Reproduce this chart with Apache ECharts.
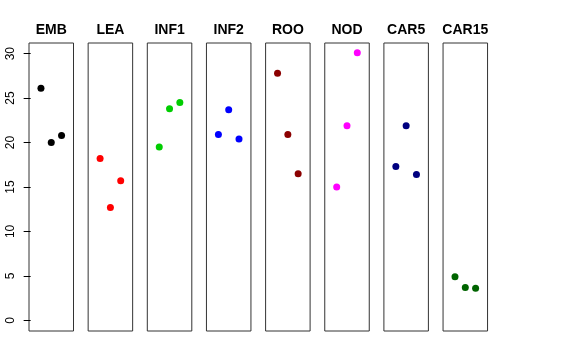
<!DOCTYPE html>
<html>
<head>
<meta charset="utf-8">
<script src="https://cdn.jsdelivr.net/npm/echarts@6/dist/echarts.min.js"></script>
<style>
html,body{margin:0;padding:0;background:#fff;}
#chart{width:576px;height:360px;}
</style>
</head>
<body>
<div id="chart"></div>
<script>
var panels = ["EMB", "LEA", "INF1", "INF2", "ROO", "NOD", "CAR5", "CAR15"];
var xPositions = [1, 2, 3];
var valuesEMB = [26.1, 20.0, 20.8];
var valuesLEA = [18.2, 12.7, 15.7];
var valuesINF1 = [19.5, 23.8, 24.5];
var valuesINF2 = [20.9, 23.7, 20.4];
var valuesROO = [27.8, 20.9, 16.5];
var valuesNOD = [15.0, 21.9, 30.1];
var valuesCAR5 = [17.3, 21.9, 16.4];
var valuesCAR15 = [4.9, 3.7, 3.6];
var yTicks = [0, 5, 10, 15, 20, 25, 30];
var colors = ["#000000", "#FF0000", "#00CD00", "#0000FF", "#8B0000", "#FF00FF", "#000080", "#006400"];

var allValues = [valuesEMB, valuesLEA, valuesINF1, valuesINF2, valuesROO, valuesNOD, valuesCAR5, valuesCAR15];

var gridLeft0 = 29, gridStep = 59.15, gridW = 44.5, gridTop = 43, gridH = 288;
var grids = [], xAxes = [], yAxes = [], series = [], titles = [];
for (var i = 0; i < panels.length; i++) {
  var left = gridLeft0 + i * gridStep;
  grids.push({left: left, top: gridTop, width: gridW, height: gridH, show: true,
    borderColor: '#333', borderWidth: 1, backgroundColor: 'transparent'});
  xAxes.push({type: 'value', gridIndex: i, min: -0.16, max: 4.16, show: false});
  var ya = {type: 'value', gridIndex: i, min: -1.2, max: 31.2, show: i === 0,
    splitLine: {show: false}, axisLine: {show: false}};
  if (i === 0) {
    ya.axisTick = {show: true, length: 7, customValues: yTicks, lineStyle: {color: '#000'}};
    ya.axisLabel = {show: true, rotate: 90, customValues: yTicks, margin: 12, color: '#000',
      fontSize: 12, fontFamily: 'Liberation Sans, Arial, sans-serif'};
  }
  yAxes.push(ya);
  series.push({type: 'scatter', xAxisIndex: i, yAxisIndex: i, symbol: 'circle', symbolSize: 7,
    itemStyle: {color: colors[i], opacity: 1}, silent: true,
    data: xPositions.map(function (x, k) { return [x, allValues[i][k]]; })});
  titles.push({text: panels[i], left: left + gridW / 2, top: 23, padding: 0, textAlign: 'center',
    textStyle: {fontSize: 14, fontWeight: 'bold', color: '#000', fontFamily: 'Liberation Sans, Arial, sans-serif'}});
}

var chart = echarts.init(document.getElementById('chart'), null, {renderer: 'canvas'});
chart.setOption({
  animation: false,
  backgroundColor: '#fff',
  title: titles,
  grid: grids,
  xAxis: xAxes,
  yAxis: yAxes,
  series: series
});
</script>
</body>
</html>
